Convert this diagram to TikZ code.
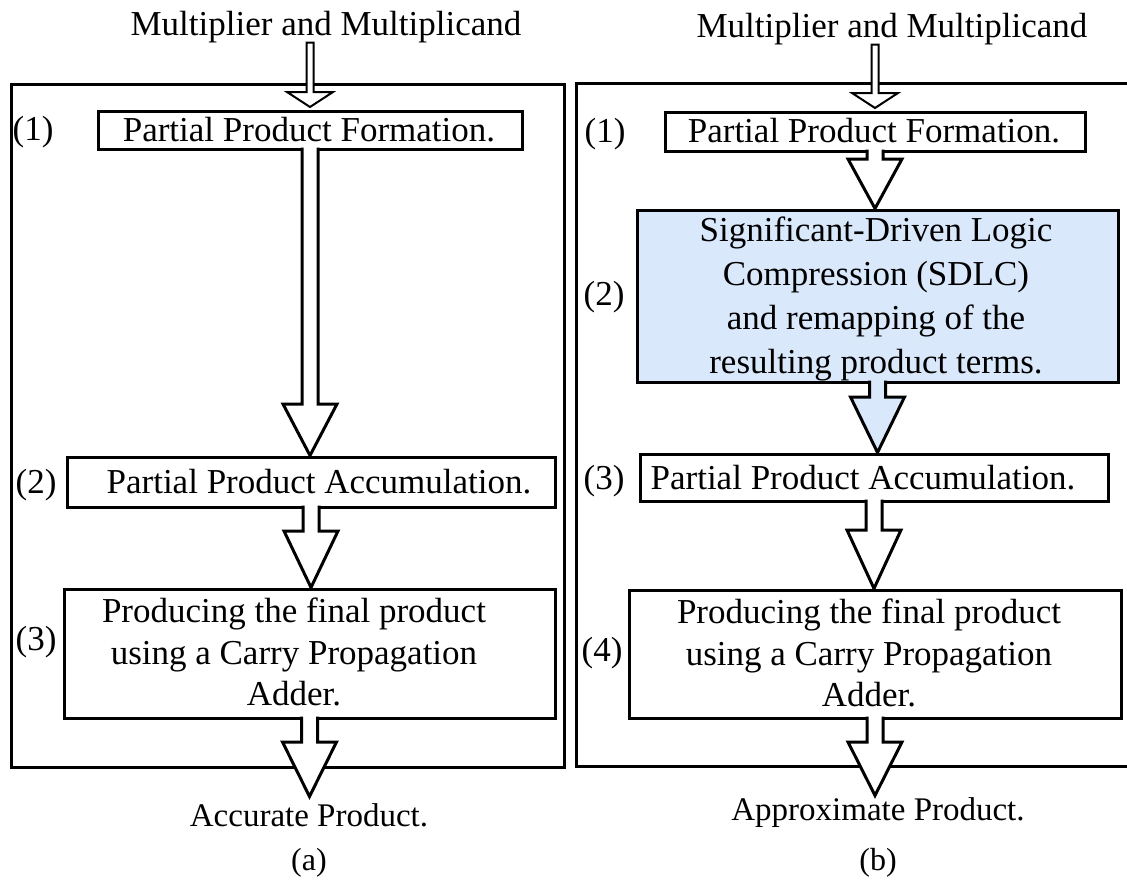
\documentclass[tikz,border=0pt]{standalone}
\usepackage{fontspec}
\setmainfont{Liberation Serif}
\usetikzlibrary{calc,fit}
\definecolor{sdlcblue}{HTML}{DAE8FC}

\tikzset{
  stage/.style={draw, line width=3pt, inner sep=0pt, outer sep=0pt},
  panel/.style={draw, line width=3pt},
  lbl/.style={inner sep=0pt, font=\fontsize{35}{42}\selectfont},
  body/.style={inner sep=0pt, align=center, font=\fontsize{35}{41.5}\selectfont},
  outlbl/.style={inner sep=0pt, font=\fontsize{33}{40}\selectfont},
  sublbl/.style={inner sep=0pt, font=\fontsize{32}{38}\selectfont},
  arrowline/.style={line width=3pt, line join=miter},
}

% Block arrow leaving the bottom of node #2 and pointing at #3 (head length #4)
\newcommand{\fatarrow}[4][white]{%
  \fill[#1] let \p1=(#2.south), \p2=(#3) in
    (\x1-8pt,\y1+1.6pt) -- (\x1-8pt,\y2+#4) -- (\x1-27pt,\y2+#4) -- (\x1,\y2+1.5pt)
    -- (\x1+27pt,\y2+#4) -- (\x1+8pt,\y2+#4) -- (\x1+8pt,\y1+1.6pt) -- cycle;
  \draw[arrowline] let \p1=(#2.south), \p2=(#3) in
    (\x1-8pt,\y1+1.5pt) -- (\x1-8pt,\y2+#4) -- (\x1-27pt,\y2+#4) -- (\x1,\y2+1.5pt)
    -- (\x1+27pt,\y2+#4) -- (\x1+8pt,\y2+#4) -- (\x1+8pt,\y1+1.5pt);
}

% Slim input arrow from a heading down to a stage box
\newcommand{\thinarrow}[2]{%
  \filldraw[fill=white, line width=2pt, line join=miter]
    let \p1=(#1.south), \p2=(#2.north) in
    (\x2-3.5pt,\y1) -- (\x2-3.5pt,\y2+19pt) -- (\x2-23pt,\y2+19pt) -- (\x2,\y2+4pt)
    -- (\x2+23pt,\y2+19pt) -- (\x2+3.5pt,\y2+19pt) -- (\x2+3.5pt,\y1) -- cycle;
}

\begin{document}
\begin{tikzpicture}[x=1pt,y=-1pt]
\useasboundingbox (0,0) rectangle (1127,886);
\clip (0,0) rectangle (1127,886);

% ---------- panel frames ----------
\draw[panel] (11,84) rectangle (564,767);
\draw[panel] (576,83) rectangle (1140,766);

% ---------- (a) accurate multiplier ----------
\node[lbl, anchor=base] (titleA) at (326,35) {Multiplier and Multiplicand};
\node[stage, fit={(98,111) (522,149)}] (a1) {};
\node[stage, fit={(67,457) (555,507)}] (a2) {};
\node[stage, fit={(64,589) (555,718)}] (a3) {};
\coordinate (outA) at (309,798);

% ---------- (b) approximate multiplier ----------
\node[lbl, anchor=base] (titleB) at (892,37) {Multiplier and Multiplicand};
\node[stage, fit={(665,112) (1085,151)}] (b1) {};
\node[stage, fill=sdlcblue, fit={(637,210) (1118,382)}] (b2) {};
\node[stage, fit={(640,454) (1108,501)}] (b3) {};
\node[stage, fit={(629,590) (1121,718)}] (b4) {};
\coordinate (outB) at (876,797);

% ---------- arrows ----------
\thinarrow{titleA}{a1}
\fatarrow{a1}{a2.north}{53pt}
\fatarrow{a2}{a3.north}{58pt}
\fatarrow{a3}{outA}{56pt}

\thinarrow{titleB}{b1}
\fatarrow{b1}{b2.north}{51pt}
\fatarrow[sdlcblue]{b2}{b3.north}{57pt}
\fatarrow{b3}{b4.north}{60pt}
\fatarrow{b4}{outB}{55pt}

% ---------- texts (a) ----------
\node[body] (a1t) at (309,130) {Partial Product Formation.};
\node[body] (a2t) at (319,482) {Partial Product Accumulation.};
\node[body] (a3t) at (294,652) {Producing the final product\\using a Carry Propagation\\Adder.};
\node[lbl] (a1n) at (33,132) {(1)};
\node[lbl] (a2n) at (36,485) {(2)};
\node[lbl] (a3n) at (36,642) {(3)};
\node[outlbl] (accA) at (309,815) {Accurate Product.};
\node[sublbl] (capA) at (309,863) {(a)};

% ---------- texts (b) ----------
\node[body] (b1t) at (874,131) {Partial Product Formation.};
\node[body, font=\fontsize{35}{44}\selectfont] (b2t) at (876,299)
  {Significant-Driven Logic\\Compression (SDLC)\\and remapping of the\\resulting product terms.};
\node[body] (b3t) at (863,478) {Partial Product Accumulation.};
\node[body] (b4t) at (869,653) {Producing the final product\\using a Carry Propagation\\Adder.};
\node[lbl] (b1n) at (605,134) {(1)};
\node[lbl] (b2n) at (604,297) {(2)};
\node[lbl] (b3n) at (604,481) {(3)};
\node[lbl] (b4n) at (602,653) {(4)};
\node[outlbl] (accB) at (878,813) {Approximate Product.};
\node[sublbl] (capB) at (878,863) {(b)};
\end{tikzpicture}
\end{document}
